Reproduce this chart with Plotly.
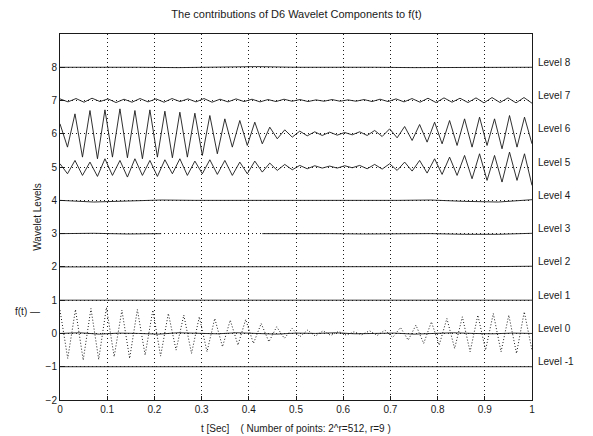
import plotly.graph_objects as go

# ---------------- data ----------------
levels = [8, 7, 6, 5, 4, 3, 2, 1, 0, -1]
level_labels = ["Level 8", "Level 7", "Level 6", "Level 5", "Level 4",
                "Level 3", "Level 2", "Level 1", "Level 0", "Level -1"]
x_ticks = [0, 0.1, 0.2, 0.3, 0.4, 0.5, 0.6, 0.7, 0.8, 0.9, 1]
x_tick_text = ["0", "0.1", "0.2", "0.3", "0.4", "0.5", "0.6", "0.7", "0.8", "0.9", "1"]
y_ticks = [-2, -1, 0, 1, 2, 3, 4, 5, 6, 7, 8]

# f(t): alternating peak / trough values (dotted curve around 0)
f_t = [0.7, -0.75, 0.72, -0.8, 0.75, -0.78, 0.78, -0.7, 0.7, -0.75,
       0.72, -0.65, 0.7, -0.68, 0.6, -0.5, 0.55, -0.6, 0.5, -0.55,
       0.45, -0.4, 0.4, -0.35, 0.42, -0.3, 0.3, -0.25, 0.2, -0.15,
       0.15, -0.1, 0.1, -0.08, 0.08, -0.06, 0.06, -0.05, 0.05, -0.04,
       0.08, -0.06, 0.1, -0.12, 0.18, -0.2, 0.25, -0.3, 0.35, -0.35,
       0.45, -0.45, 0.5, -0.55, 0.55, -0.5, 0.6, -0.55, 0.55, -0.6,
       0.65, -0.5]

# wavelet components (deviation from their level)
comp_8 = [0.0, 0.01, 0.0, -0.01, 0.0, 0.02, 0.0, 0.01, 0.0, -0.01, 0.0, 0.01, 0.0]
comp_7 = [0.05, -0.04, 0.06, -0.05, 0.07, -0.03, 0.05, -0.06, 0.04, -0.05,
          0.06, -0.04, 0.05, -0.05, 0.06, -0.03, 0.05, -0.04, 0.06, -0.05,
          0.04, -0.04, 0.05, -0.03, 0.04, -0.04, 0.03, -0.03, 0.04, -0.02,
          0.03, -0.03, 0.02, -0.02, 0.03, -0.02, 0.02, -0.02, 0.03, -0.03,
          0.04, -0.03, 0.05, -0.04, 0.06, -0.05, 0.07, -0.06, 0.08, -0.05,
          0.07, -0.06, 0.08, -0.07, 0.09, -0.06, 0.08, -0.07, 0.09, -0.08]
comp_6 = [0.3, -0.4, 0.6, -0.7, 0.7, -0.75, 0.72, -0.7, 0.75, -0.72,
          0.7, -0.75, 0.72, -0.7, 0.68, -0.72, 0.65, -0.7, 0.62, -0.65,
          0.55, -0.6, 0.45, -0.4, 0.4, -0.35, 0.35, -0.3, 0.2, -0.15,
          0.12, -0.1, 0.08, -0.06, 0.06, -0.05, 0.05, -0.04, 0.04, -0.03,
          0.06, -0.05, 0.1, -0.08, 0.15, -0.12, 0.22, -0.2, 0.28, -0.25,
          0.35, -0.3, 0.4, -0.35, 0.45, -0.4, 0.5, -0.35, 0.45, -0.45,
          0.55, -0.4, 0.5, -0.3]
comp_5 = [0.1, -0.2, 0.2, -0.25, 0.15, -0.28, 0.25, -0.25, 0.2, -0.3,
          0.25, -0.25, 0.2, -0.28, 0.22, -0.2, 0.25, -0.25, 0.18, -0.2,
          0.22, -0.22, 0.2, -0.25, 0.15, -0.2, 0.18, -0.15, 0.12, -0.1,
          0.08, -0.08, 0.05, -0.05, 0.04, -0.03, 0.03, -0.03, 0.04, -0.02,
          0.05, -0.05, 0.08, -0.06, 0.1, -0.1, 0.15, -0.12, 0.2, -0.18,
          0.25, -0.22, 0.3, -0.25, 0.35, -0.35, 0.4, -0.4, 0.35, -0.45,
          0.45, -0.4, 0.4, -0.55]
comp_4 = [0.0, -0.05, -0.02, 0.01, 0.0, 0.01, 0.0, 0.0, 0.01, 0.0, 0.0, 0.01, -0.03, -0.05, 0.02]
comp_3 = [0.0, 0.01, -0.01, 0.0, None, None, 0.0, 0.01, 0.0, -0.01, 0.0, 0.0, -0.02, -0.02, 0.01]
comp_2 = [0.0, 0.0, 0.01, -0.01, 0.0, 0.0, 0.01, 0.0, 0.0, -0.01, 0.0, 0.0, 0.0, 0.01, 0.02]
comp_1 = [0.0, 0.0, 0.0, 0.01, 0.0, 0.0, 0.01, 0.0, 0.0, 0.0, 0.01, 0.0, 0.0]
comp_0 = [0.0, 0.02, -0.02, 0.01, 0.0, -0.02, 0.02, 0.0, -0.01, 0.02, 0.0, -0.02,
          0.01, 0.0, 0.02, -0.01, 0.0, 0.01, -0.02, 0.0, 0.02, 0.0, -0.01, 0.01, 0.0]
comp_m1 = [0.0, 0.0, 0.01, 0.0, 0.0, -0.01, 0.0, 0.0, 0.01, 0.0, 0.0]

components = [comp_8, comp_7, comp_6, comp_5, comp_4, comp_3, comp_2, comp_1, comp_0, comp_m1]


def times(vals):
    n = len(vals)
    return [i / (n - 1) for i in range(n)]


INK = "#1a1a1a"
FONT = "Liberation Sans, Arial, sans-serif"

fig = go.Figure()

for lev, comp in zip(levels, components):
    fig.add_trace(go.Scatter(
        x=times(comp),
        y=[None if v is None else lev + v for v in comp],
        mode="lines",
        line=dict(color=INK, width=0.9),
        showlegend=False, hoverinfo="skip"))

fig.add_trace(go.Scatter(
    x=times(f_t), y=f_t, mode="lines",
    line=dict(color=INK, width=1, dash="1px,2px"),
    showlegend=False, hoverinfo="skip"))

annotations = []
for lev, lab in zip(levels, level_labels):
    annotations.append(dict(
        x=1, xref="paper", xanchor="left", xshift=4,
        y=lev + 0.15, yref="y", yanchor="middle",
        text=lab, showarrow=False, font=dict(size=10, color=INK, family=FONT)))

annotations.append(dict(
    x=0, xref="paper", xanchor="right", xshift=-18,
    y=0.65, yref="y", yanchor="middle",
    text="f(t) —", showarrow=False, font=dict(size=10, color=INK, family=FONT)))

annotations.append(dict(
    x=0.5, xref="paper", xanchor="center",
    y=-0.058, yref="paper", yanchor="top",
    text="t [Sec]    ( Number of points: 2^r=512, r=9 )",
    showarrow=False, font=dict(size=10, color=INK, family=FONT)))

fig.update_layout(
    width=593, height=436,
    margin=dict(l=60, r=61, t=34, b=36),
    paper_bgcolor="white", plot_bgcolor="white",
    font=dict(family=FONT, size=10, color=INK),
    title=dict(text="The contributions of D6 Wavelet Components to f(t)",
               x=0.5, xanchor="center", y=0.968, yanchor="middle",
               font=dict(size=11, color=INK, family=FONT)),
    annotations=annotations,
)

fig.update_xaxes(
    range=[0, 1], tickvals=x_ticks, ticktext=x_tick_text,
    showgrid=True, gridcolor=INK, griddash="1px,3px", gridwidth=1,
    showline=True, linecolor=INK, linewidth=1, mirror=True,
    ticks="inside", ticklen=4, tickcolor=INK, zeroline=False,
    tickfont=dict(size=10, color=INK, family=FONT))
fig.update_yaxes(
    range=[-2, 9], tickvals=y_ticks,
    showgrid=True, gridcolor=INK, griddash="1px,3px", gridwidth=1,
    showline=True, linecolor=INK, linewidth=1, mirror=True,
    ticks="inside", ticklen=4, tickcolor=INK, zeroline=False,
    tickfont=dict(size=10, color=INK, family=FONT),
    title=dict(text="Wavelet Levels", standoff=2,
               font=dict(size=10, color=INK, family=FONT)))

fig.write_html("out.html")
